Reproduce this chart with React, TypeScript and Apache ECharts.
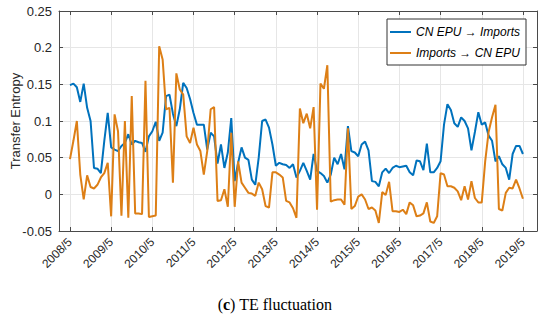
import React, { useEffect, useRef } from "react";
import * as echarts from "echarts";

const tickLabels = ["2008/5", "2009/5", "2010/5", "2011/5", "2012/5", "2013/5", "2014/5", "2015/5", "2016/5", "2017/5", "2018/5", "2019/5"];
const tickMonths = [0, 12, 24, 36, 48, 60, 72, 84, 96, 108, 120, 132];

const cnEpuToImports = [
  0.149, 0.151, 0.146, 0.126, 0.151, 0.118, 0.100, 0.036, 0.035, 0.029, 0.073, 0.111,
  0.064, 0.061, 0.059, 0.066, 0.070, 0.082, 0.068, 0.073, 0.071, 0.070, 0.058, 0.079,
  0.086, 0.099, 0.073, 0.084, 0.134, 0.136, 0.110, 0.093, 0.116, 0.152, 0.145, 0.130,
  0.111, 0.095, 0.095, 0.095, 0.061, 0.084, 0.079, 0.042, 0.068, 0.036, 0.057, 0.104,
  0.018, 0.043, 0.064, 0.050, 0.047, 0.020, 0.013, 0.050, 0.100, 0.102, 0.091, 0.068,
  0.039, 0.043, 0.041, 0.040, 0.036, 0.041, 0.023, 0.032, 0.043, 0.032, 0.020, 0.055,
  0.032, 0.029, 0.025, 0.016, 0.027, 0.050, 0.041, 0.055, 0.034, 0.093, 0.059, 0.057,
  0.052, 0.068, 0.072, 0.060, 0.018, 0.017, 0.011, 0.030, 0.035, 0.029, 0.036, 0.039,
  0.037, 0.038, 0.039, 0.030, 0.026, 0.046, 0.045, 0.033, 0.069, 0.030, 0.030, 0.036,
  0.045, 0.095, 0.123, 0.115, 0.097, 0.092, 0.105, 0.100, 0.090, 0.060, 0.085, 0.112,
  0.095, 0.098, 0.080, 0.073, 0.045, 0.052, 0.041, 0.036, 0.020, 0.055, 0.066, 0.066,
  0.055,
];

const importsToCnEpu = [
  0.048, 0.073, 0.100, 0.027, -0.007, 0.026, 0.010, 0.008, 0.013, 0.023, 0.029, 0.043,
  -0.030, 0.109, 0.086, -0.029, 0.100, -0.032, 0.134, -0.026, -0.026, -0.027, 0.155, -0.031,
  -0.030, -0.029, 0.202, 0.184, 0.116, 0.118, 0.016, 0.165, 0.143, 0.136, 0.079, 0.070,
  0.091, 0.068, 0.059, 0.027, 0.059, 0.116, 0.119, -0.009, -0.008, 0.007, -0.017, 0.084,
  -0.017, 0.045, 0.016, 0.009, 0.002, 0.001, -0.002, 0.016, 0.007, -0.016, -0.018, 0.030,
  0.030, 0.027, 0.023, -0.009, -0.011, -0.019, -0.032, 0.117, 0.097, 0.110, 0.090, 0.119,
  -0.021, 0.151, 0.144, 0.176, -0.010, -0.008, -0.007, -0.007, -0.014, 0.090, -0.020, -0.016,
  -0.003, 0.000, -0.007, -0.020, -0.018, -0.022, -0.039, 0.003, -0.001, 0.017, -0.023, -0.023,
  -0.024, -0.021, -0.027, -0.011, -0.015, -0.030, -0.029, -0.026, -0.011, -0.037, -0.039, -0.030,
  0.029, 0.027, 0.011, 0.011, 0.009, 0.004, -0.008, 0.011, -0.007, 0.018, -0.005, -0.011,
  -0.011, 0.045, 0.085, 0.105, 0.122, -0.020, -0.022, 0.002, 0.009, 0.008, 0.020, 0.008,
  -0.006,
];

const seriesNames = ["CN EPU \u2192 Imports", "Imports \u2192 CN EPU"];
const yAxisTitle = "Transfer Entropy";
const captionText = "({b|c}) TE fluctuation";

const AXIS_COLOR = "#4a4a4a";
const TEXT_COLOR = "#262626";
const GRID_COLOR = "#e6e6e6";
const BLUE = "#0072BD";
const ORANGE = "#DD7F16";
const FONT = "Liberation Sans";

export default function App() {
  const ref = useRef<HTMLDivElement>(null);

  useEffect(() => {
    document.body.style.margin = "0";
    if (!ref.current) return;
    const chart = echarts.init(ref.current, undefined, { renderer: "svg" });
    const xMin = -3.2;
    const xMax = 136.1;
    const fmtY = (v: number) => String(parseFloat(v.toFixed(2)));
    chart.setOption({
      animation: false,
      backgroundColor: "#ffffff",
      grid: { left: 59, right: 13, top: 11, bottom: 93, containLabel: false, outerBoundsMode: "none" },
      legend: {
        data: seriesNames,
        orient: "vertical",
        left: 387,
        top: 19,
        icon: "rect",
        backgroundColor: "#ffffff",
        borderColor: "#333333",
        borderWidth: 1,
        padding: [6, 6, 5, 3],
        itemGap: 7,
        itemWidth: 21,
        itemHeight: 2,
        textStyle: { fontFamily: FONT, fontStyle: "italic", fontSize: 12, color: "#000000", height: 14, lineHeight: 14 },
      },
      xAxis: [
        {
          type: "value",
          min: xMin,
          max: xMax,
          position: "bottom",
          axisLine: { show: true, onZero: false, lineStyle: { color: AXIS_COLOR, width: 1 } },
          axisTick: { show: true, inside: true, length: 4, customValues: tickMonths, lineStyle: { color: AXIS_COLOR } },
          axisLabel: {
            show: true,
            customValues: tickMonths,
            rotate: 45,
            margin: 9,
            fontFamily: FONT,
            fontSize: 12,
            color: TEXT_COLOR,
            formatter: (v: number) => tickLabels[Math.round(v / 12)] ?? "",
          },
          splitLine: { show: false },
        },
        {
          type: "value",
          min: xMin,
          max: xMax,
          position: "top",
          axisLine: { show: true, onZero: false, lineStyle: { color: AXIS_COLOR, width: 1 } },
          axisTick: { show: true, inside: true, length: 4, customValues: tickMonths, lineStyle: { color: AXIS_COLOR } },
          axisLabel: { show: false },
          splitLine: { show: false },
        },
      ],
      yAxis: [
        {
          type: "value",
          min: -0.05,
          max: 0.25,
          interval: 0.05,
          position: "left",
          axisLine: { show: true, onZero: false, lineStyle: { color: AXIS_COLOR, width: 1 } },
          axisTick: { show: true, inside: true, length: 4, lineStyle: { color: AXIS_COLOR } },
          axisLabel: { fontFamily: FONT, fontSize: 13, color: TEXT_COLOR, margin: 7, formatter: fmtY },
          splitLine: { show: true, lineStyle: { color: GRID_COLOR, width: 1 } },
        },
        {
          type: "value",
          min: -0.05,
          max: 0.25,
          interval: 0.05,
          position: "right",
          axisLine: { show: true, onZero: false, lineStyle: { color: AXIS_COLOR, width: 1 } },
          axisTick: { show: true, inside: true, length: 4, lineStyle: { color: AXIS_COLOR } },
          axisLabel: { show: false },
          splitLine: { show: false },
        },
      ],
      series: [
        {
          type: "line",
          name: seriesNames[0],
          data: cnEpuToImports.map((v, i) => [i, v]),
          symbol: "none",
          showSymbol: false,
          color: BLUE,
          lineStyle: { width: 2, color: BLUE },
          z: 3,
          markLine: {
            silent: true,
            symbol: ["none", "none"],
            label: { show: false },
            lineStyle: { color: GRID_COLOR, width: 1, type: "solid" },
            emphasis: { disabled: true },
            data: tickMonths.map((m) => ({ xAxis: m })),
            z: 0,
          },
        },
        {
          type: "line",
          name: seriesNames[1],
          data: importsToCnEpu.map((v, i) => [i, v]),
          symbol: "none",
          showSymbol: false,
          color: ORANGE,
          lineStyle: { width: 2, color: ORANGE },
          z: 4,
        },
      ],
      graphic: [
        {
          type: "text",
          x: 15,
          y: 121,
          rotation: Math.PI / 2,
          style: {
            text: yAxisTitle,
            fontFamily: FONT,
            fontSize: 13,
            fill: TEXT_COLOR,
            align: "center",
            verticalAlign: "middle",
          },
        },
        {
          type: "text",
          left: "center",
          top: 296,
          style: {
            text: captionText,
            fontFamily: "Liberation Serif",
            fontSize: 16,
            fill: "#000000",
            rich: {
              b: { fontFamily: "Liberation Serif", fontSize: 16, fontWeight: "bold", fill: "#000000" },
            },
          },
        },
      ],
    });
    return () => chart.dispose();
  }, []);

  return <div ref={ref} style={{ width: 550, height: 324 }} />;
}
